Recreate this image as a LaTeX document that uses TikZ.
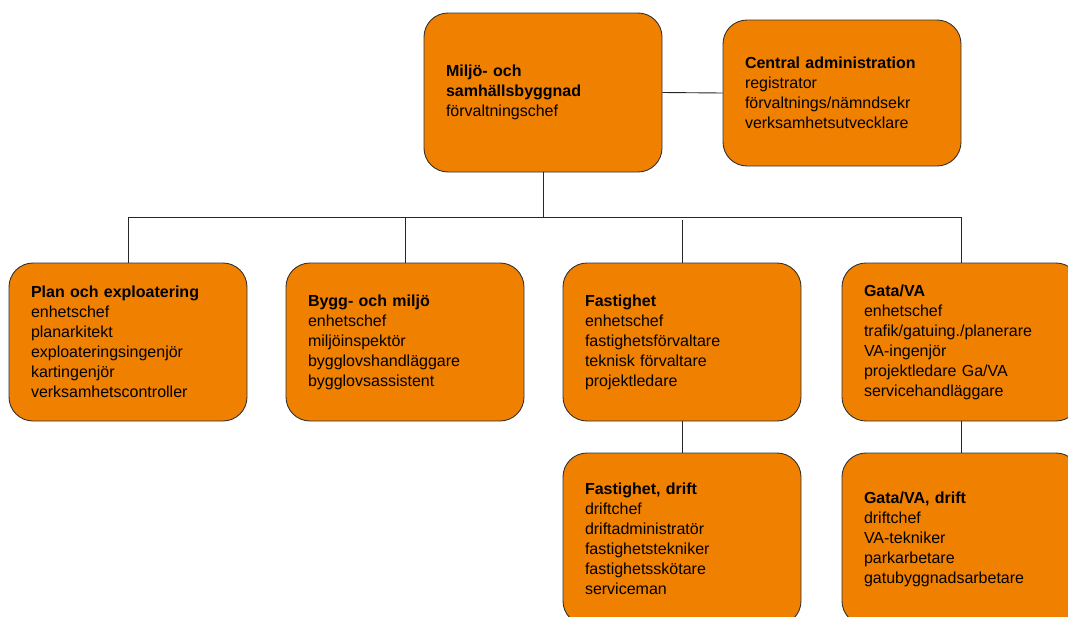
\documentclass[tikz,border=0pt]{standalone}
\usepackage{fontspec}
\setmainfont{Liberation Sans}
\definecolor{boxorange}{HTML}{F08000}
\tikzset{
    unitbox/.style={draw=black!80, line width=0.9pt, fill=boxorange, rounded corners=24pt,
        text width=194pt, inner xsep=22pt, inner ysep=0pt, align=left,
        font=\fontsize{16}{20}\selectfont},
    link/.style={draw=black!85, line width=0.9pt}
}
\begin{document}
\begin{tikzpicture}[x=1pt,y=-1pt]
        \useasboundingbox (0,0) rectangle (1068,616);

        % ledning
        \node[unitbox, minimum height=159pt] (chef) at (543,92.5) {\textbf{Miljö- och}\\\textbf{samhällsbyggnad}\\förvaltningschef};
        \node[unitbox, minimum height=146pt] (admin) at (842,93) {\textbf{Central administration}\\registrator\\förvaltnings/nämndsekr\\verksamhetsutvecklare};

        % enheter
        \node[unitbox, minimum height=158pt] (plan) at (128,342) {\textbf{Plan och exploatering}\\enhetschef\\planarkitekt\\exploateringsingenjör\\kartingenjör\\verksamhetscontroller};
        \node[unitbox, minimum height=158pt] (bygg) at (405,342) {\textbf{Bygg- och miljö}\\enhetschef\\miljöinspektör\\bygglovshandläggare\\bygglovsassistent};
        \node[unitbox, minimum height=158pt] (fast) at (682,342) {\textbf{Fastighet}\\enhetschef\\fastighetsförvaltare\\teknisk förvaltare\\projektledare};
        \node[unitbox, minimum height=158pt] (gata) at (961,342) {\textbf{Gata/VA}\\enhetschef\\trafik/gatuing./planerare\\VA-ingenjör\\projektledare Ga/VA\\servicehandläggare};

        % drift
        \node[unitbox, minimum height=172pt] (fastdrift) at (682,539) {\textbf{Fastighet, drift}\\driftchef\\driftadministratör\\fastighetstekniker\\fastighetsskötare\\serviceman};
        \node[unitbox, minimum height=172pt] (gatadrift) at (961,539) {\textbf{Gata/VA, drift}\\driftchef\\VA-tekniker\\parkarbetare\\gatubyggnadsarbetare};

        % linjer
        \coordinate (bar) at (0,217);
        \draw[link] (chef.east) -- (admin.west);
        \draw[link] (chef.south) -- (chef.south |- bar);
        \draw[link] (plan.north) -- (plan.north |- bar) -- (gata.north |- bar) -- (gata.north);
        \draw[link] (bygg.north) -- (bygg.north |- bar);
        \draw[link] (fast.north) -- ++(0,-43);
        \draw[link] (fast.south) -- (fastdrift.north);
        \draw[link] (gata.south) -- (gatadrift.north);

    \end{tikzpicture}
\end{document}
